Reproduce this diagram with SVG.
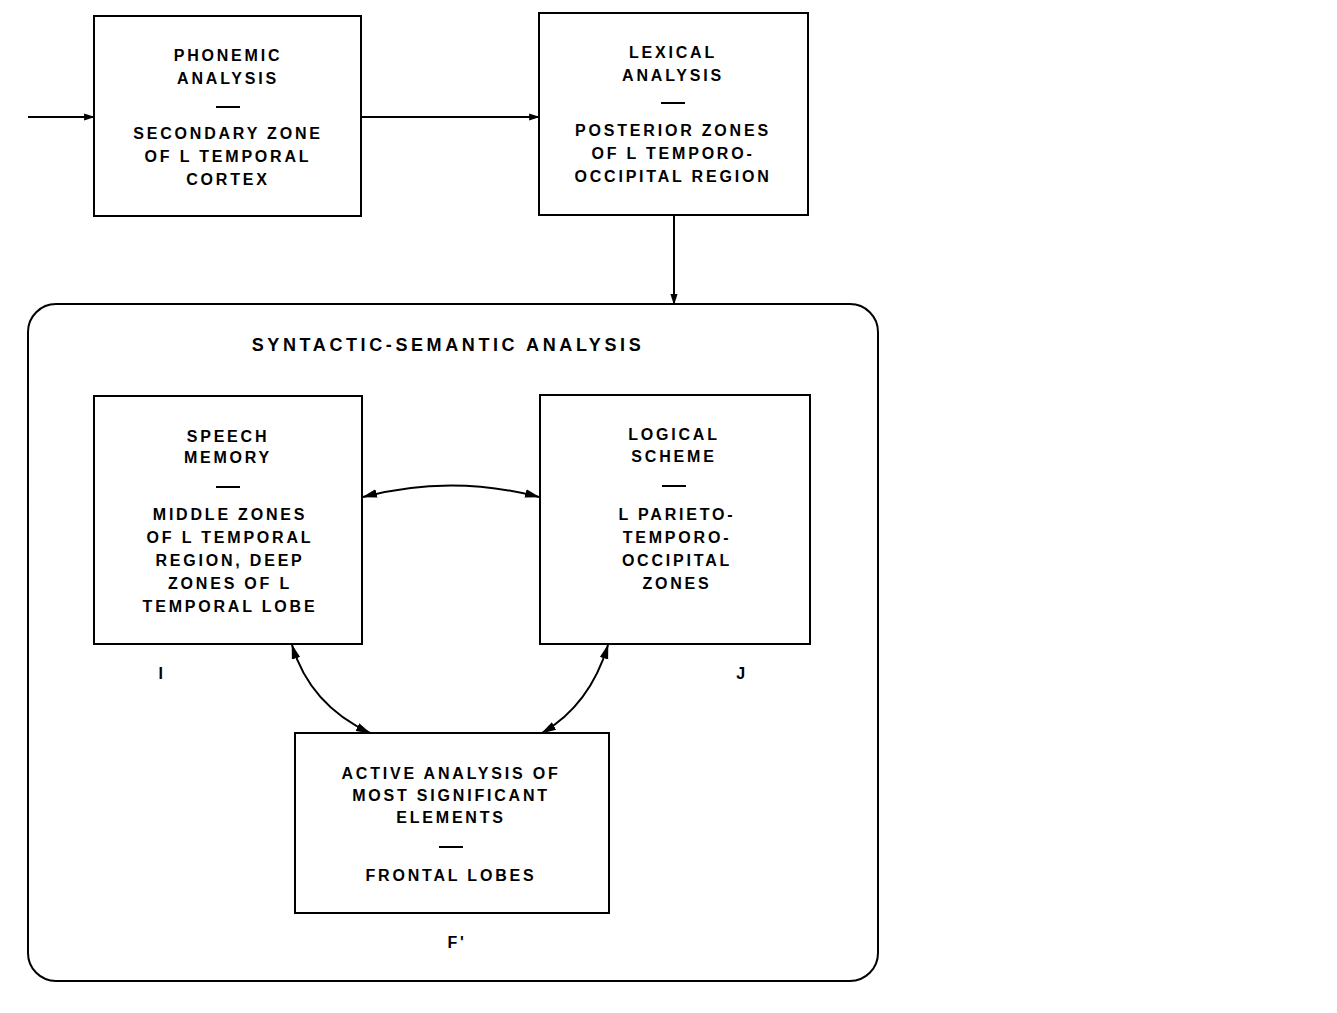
<svg xmlns="http://www.w3.org/2000/svg" width="1337" height="1013" viewBox="0 0 1337 1013">
<defs>
<marker id="a" viewBox="0 0 12 10" refX="11" refY="5" markerWidth="12" markerHeight="9" orient="auto-start-reverse" markerUnits="userSpaceOnUse"><path d="M0,1 L12,5 L0,9 z" fill="#000"/></marker>
<marker id="b" viewBox="0 0 14 10" refX="13" refY="5" markerWidth="15" markerHeight="11" orient="auto-start-reverse" markerUnits="userSpaceOnUse"><path d="M0,1 L14,5 L0,9 z" fill="#000"/></marker>
</defs>
<style>
.box{fill:#fff;stroke:#000;stroke-width:2}
.t{font-family:"Liberation Sans",Arial,sans-serif;font-weight:bold;font-size:16px;letter-spacing:2.8px;text-anchor:middle;fill:#000}
.ln{stroke:#000;stroke-width:2;fill:none}
</style>
<rect width="1337" height="1013" fill="#fff"/>
<g id="outer">
<rect class="box" x="28" y="304" width="850" height="677" rx="28"/>
<text class="t" x="448" y="351" style="font-size:18px;letter-spacing:3.6px">SYNTACTIC-SEMANTIC ANALYSIS</text>
</g>
<g id="phonemic">
<rect class="box" x="94" y="16" width="267" height="200"/>
<text class="t" x="228" y="61">PHONEMIC</text>
<text class="t" x="228" y="84">ANALYSIS</text>
<line class="ln" x1="216" y1="107" x2="240" y2="107"/>
<text class="t" x="228" y="139">SECONDARY ZONE</text>
<text class="t" x="228" y="162">OF L TEMPORAL</text>
<text class="t" x="228" y="185">CORTEX</text>
</g>
<g id="lexical">
<rect class="box" x="539" y="13" width="269" height="202"/>
<text class="t" x="673" y="58">LEXICAL</text>
<text class="t" x="673" y="81">ANALYSIS</text>
<line class="ln" x1="661" y1="103" x2="685" y2="103"/>
<text class="t" x="673" y="136">POSTERIOR ZONES</text>
<text class="t" x="673" y="159">OF L TEMPORO-</text>
<text class="t" x="673" y="182">OCCIPITAL REGION</text>
</g>
<g id="speech">
<rect class="box" x="94" y="396" width="268" height="248"/>
<text class="t" x="228" y="442">SPEECH</text>
<text class="t" x="228" y="463">MEMORY</text>
<line class="ln" x1="216" y1="487" x2="240" y2="487"/>
<text class="t" x="230" y="520">MIDDLE ZONES</text>
<text class="t" x="230" y="543">OF L TEMPORAL</text>
<text class="t" x="230" y="566">REGION, DEEP</text>
<text class="t" x="230" y="589">ZONES OF L</text>
<text class="t" x="230" y="612">TEMPORAL LOBE</text>
<text class="t" x="162" y="679">I</text>
</g>
<g id="logical">
<rect class="box" x="540" y="395" width="270" height="249"/>
<text class="t" x="674" y="440">LOGICAL</text>
<text class="t" x="674" y="462">SCHEME</text>
<line class="ln" x1="662" y1="486" x2="686" y2="486"/>
<text class="t" x="677" y="520">L PARIETO-</text>
<text class="t" x="677" y="543">TEMPORO-</text>
<text class="t" x="677" y="566">OCCIPITAL</text>
<text class="t" x="677" y="589">ZONES</text>
<text class="t" x="742" y="679">J</text>
</g>
<g id="active">
<rect class="box" x="295" y="733" width="314" height="180"/>
<text class="t" x="451" y="779">ACTIVE ANALYSIS OF</text>
<text class="t" x="451" y="801">MOST SIGNIFICANT</text>
<text class="t" x="451" y="823">ELEMENTS</text>
<line class="ln" x1="439" y1="847" x2="463" y2="847"/>
<text class="t" x="451" y="881">FRONTAL LOBES</text>
<text class="t" x="457" y="948">F'</text>
</g>
<g id="connectors">
<line class="ln" x1="28" y1="117" x2="94" y2="117" marker-end="url(#a)"/>
<line class="ln" x1="361" y1="117" x2="539" y2="117" marker-end="url(#a)"/>
<line class="ln" x1="674" y1="215" x2="674" y2="304" marker-end="url(#a)"/>
<path class="ln" d="M363,497 Q451,474 539,497" marker-start="url(#b)" marker-end="url(#b)"/>
<path class="ln" d="M292,645 Q310,705 370,733" marker-start="url(#b)" marker-end="url(#b)"/>
<path class="ln" d="M608,645 Q590,705 542,733" marker-start="url(#b)" marker-end="url(#b)"/>
</g>
</svg>
